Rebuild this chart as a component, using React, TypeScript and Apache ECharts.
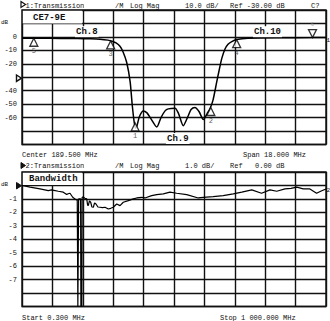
import React, { useEffect, useRef } from "react";
import * as echarts from "echarts";

const MONO = '"Liberation Mono", "DejaVu Sans Mono", monospace';

// Chart 1 (narrow span)
const CENTER_MHZ = 189.5;
const SPAN_MHZ = 18;
const Y1_MIN = -80;
const Y1_MAX = 20;
const Y1_LABELS = [0, -10, -20, -40, -50, -60];

const trace1Freq = [
  180.5, 181.5, 182.75, 183.8, 184.53, 185.12, 185.59, 185.83, 186.07, 186.3, 186.48, 186.7,
  186.9, 187.03, 187.15, 187.23, 187.31, 187.46, 187.68, 187.9, 188.14, 188.48, 188.73, 188.97,
  189.16, 189.56, 189.77, 190.05, 190.33, 190.51, 190.74, 190.98, 191.24, 191.46, 191.64, 191.81,
  192.03, 192.17, 192.33, 192.52, 192.7, 192.92, 193.21, 193.88, 195.78, 197.7, 198.5,
];
const trace1Db = [
  -1.0, -1.0, -1.1, -1.2, -1.4, -1.7, -2.4, -3.2, -4.5, -7, -11, -19,
  -33, -51, -64, -68, -66, -59, -55, -56.5, -61, -67, -60, -55,
  -53.5, -53, -57, -66, -59, -54, -52.5, -55.5, -61.5, -57, -53, -47,
  -33.5, -25, -16, -9, -5.5, -3.5, -2, -1, -0.6, -0.5, -0.4,
];

const markerUpNames = ["1", "2", "3", "4", "5"];
const markerUpFreq = [187.2, 191.68, 185.75, 193.21, 181.2];
const markerUpDb = [-64, -52.5, -3, -2, -1];
const markerDownNames = ["6"];
const markerDownFreq = [197.7];
const markerDownDb = [-0.5];

// Chart 2 (wide span)
const START2_MHZ = 0.3;
const STOP2_MHZ = 1000;
const Y2_MIN = -9;
const Y2_MAX = 1;
const Y2_LABELS = [-1, -2, -3, -4, -5, -6, -7];

const trace2Freq = [
  0.3, 26.6, 59.5, 86.8, 98, 105, 119.7, 136.1, 147.3, 152, 158.2, 167, 174.6, 182,
  184, 185.5, 186.5, 193, 194, 197, 198, 201.9, 207, 213.1, 216, 218.3, 222, 226.2, 230,
  234.8, 239, 243.6, 250, 256.8, 265, 273.3, 284.1, 292, 300.5, 311.7, 322.6, 333.4, 349.9,
  366.3, 377.5, 393.9, 404.8, 426.8, 443.3, 465, 487, 509, 542, 580, 596, 629, 662, 695,
  723, 756, 788, 816, 838, 865, 885, 904, 925, 947, 969, 986, 1000,
];
const trace2Db = [
  0, -0.13, -0.26, -0.39, -0.33, -0.36, -0.43, -0.5, -0.68, -0.62, -0.58, -0.88, -1.0, -1.1,
  -9, -9, -1.0, -1.0, -9, -9, -0.9, -0.85, -0.95, -1.0, -1.45, -1.5, -1.15, -1.25, -1.6,
  -1.62, -1.3, -1.38, -1.6, -1.62, -1.65, -1.62, -1.75, -1.7, -1.62, -1.38, -1.5, -1.25, -1.13,
  -1.0, -0.93, -0.88, -0.93, -0.76, -0.68, -0.63, -0.5, -0.58, -0.68, -0.93, -0.88, -0.83, -0.76, -0.63,
  -0.5, -0.33, -0.58, -0.33, -0.43, -0.26, -0.22, -0.13, -0.26, -0.26, -0.58, -0.39, -0.26,
];

const INK = "#111";

function txt(text: string, x: number, y: number, size = 7, extra: any = {}) {
  return {
    type: "text",
    x,
    y,
    z: 20,
    style: {
      text,
      fill: INK,
      fontFamily: MONO,
      fontSize: size,
      verticalAlign: "middle",
      align: "left",
      ...extra,
    },
  };
}

export default function App() {
  const ref = useRef<HTMLDivElement>(null);
  useEffect(() => {
    if (!ref.current) return;
    const chart = echarts.init(ref.current, undefined, { renderer: "svg" });
    const x1Start = CENTER_MHZ - SPAN_MHZ / 2;
    const span2 = STOP2_MHZ - START2_MHZ;
    const near = (v: number, arr: number[]) => arr.some((a) => Math.abs(a - v) < 1e-6);
    const splitLine = { show: true, lineStyle: { color: INK, width: 1.4 } };
    const gridBase = {
      left: 22,
      width: 304,
      height: 134.5,
      show: true,
      borderColor: INK,
      borderWidth: 1.4,
      backgroundColor: "#fff",
    };
    const option: any = {
      animation: false,
      backgroundColor: "#fff",
      textStyle: { fontFamily: MONO },
      grid: [
        { ...gridBase, top: 10 },
        { ...gridBase, top: 172 },
      ],
      xAxis: [
        {
          gridIndex: 0,
          type: "value",
          min: 0,
          max: SPAN_MHZ,
          interval: SPAN_MHZ / 10,
          axisLabel: { show: false },
          axisTick: { show: false },
          axisLine: { show: false },
          splitLine,
        },
        {
          gridIndex: 1,
          type: "value",
          min: 0,
          max: span2,
          interval: span2 / 10,
          axisLabel: { show: false },
          axisTick: { show: false },
          axisLine: { show: false },
          splitLine,
        },
      ],
      yAxis: [
        {
          gridIndex: 0,
          type: "value",
          min: Y1_MIN,
          max: Y1_MAX,
          interval: 10,
          axisTick: { show: false },
          axisLine: { show: false },
          splitLine,
          axisLabel: {
            margin: 5,
            fontSize: 7,
            color: INK,
            fontFamily: MONO,
            formatter: (v: number) => (near(v, Y1_LABELS) ? String(v) : ""),
          },
        },
        {
          gridIndex: 1,
          type: "value",
          min: Y2_MIN,
          max: Y2_MAX,
          interval: 1,
          axisTick: { show: false },
          axisLine: { show: false },
          splitLine,
          axisLabel: {
            margin: 5,
            fontSize: 7,
            color: INK,
            fontFamily: MONO,
            formatter: (v: number) => (near(v, Y2_LABELS) ? String(v) : ""),
          },
        },
      ],
      series: [
        {
          type: "line",
          xAxisIndex: 0,
          yAxisIndex: 0,
          data: trace1Freq.map((f, i) => [f - x1Start, trace1Db[i]]),
          showSymbol: false,
          smooth: 0.25,
          lineStyle: { color: "#000", width: 1.5 },
          z: 3,
        },
        {
          type: "line",
          xAxisIndex: 1,
          yAxisIndex: 1,
          data: trace2Freq.map((f, i) => [f - START2_MHZ, trace2Db[i]]),
          showSymbol: false,
          lineStyle: { color: "#000", width: 1.2 },
          clip: true,
          z: 3,
        },
        {
          type: "scatter",
          xAxisIndex: 0,
          yAxisIndex: 0,
          data: markerUpFreq.map((f, i) => ({ name: markerUpNames[i], value: [f - x1Start, markerUpDb[i]] })),
          symbol: "triangle",
          symbolSize: [8, 8],
          symbolOffset: [0, "50%"],
          itemStyle: { color: "#fff", borderColor: "#000", borderWidth: 1.3 },
          label: {
            show: true,
            position: "bottom",
            distance: 1,
            formatter: (p: any) => p.name,
            fontSize: 7,
            color: "#333",
            fontFamily: MONO,
          },
          z: 5,
        },
        {
          type: "scatter",
          xAxisIndex: 0,
          yAxisIndex: 0,
          data: markerDownFreq.map((f, i) => ({ name: markerDownNames[i], value: [f - x1Start, markerDownDb[i]] })),
          symbol: "triangle",
          symbolRotate: 180,
          symbolSize: [8, 8],
          symbolOffset: [0, "-50%"],
          itemStyle: { color: "#fff", borderColor: "#000", borderWidth: 1.3 },
          label: {
            show: true,
            position: "top",
            distance: 1,
            formatter: (p: any) => p.name,
            fontSize: 5.5,
            color: "#888",
            fontFamily: MONO,
          },
          z: 5,
        },
      ],
      graphic: [
        {
          type: "polygon",
          z: 20,
          shape: { points: [[21, 1.5], [25.5, 4.5], [21, 7.5]] },
          style: { fill: "#fff", stroke: INK, lineWidth: 1.2 },
        },
        txt("1:Transmission", 25.5, 5.5),
        txt("/M", 115, 5.5),
        txt("Log Mag", 130, 5.5),
        txt("10.0 dB/", 185, 5.5),
        txt("Ref -30.00 dB", 230, 5.5),
        txt("C?", 311, 5.5),
        txt("dB", 1, 22, 6),
        {
          type: "polygon",
          z: 20,
          shape: { points: [[16.5, 75], [21.5, 78.2], [16.5, 81.4]] },
          style: { fill: "#fff", stroke: INK, lineWidth: 1.4 },
        },
        { type: "rect", z: 15, shape: { x: 22.8, y: 10.8, width: 59.4, height: 12.6 }, style: { fill: "#fff" } },
        txt("CE7-9E", 33, 17.5, 9, { fontWeight: "bold" }),
        txt("Ch.8", 75, 31.7, 9, { fontWeight: "bold", backgroundColor: "#fff", padding: [1, 1] }),
        txt("Ch.9", 166, 138.5, 9, { fontWeight: "bold", backgroundColor: "#fff", padding: [1, 1] }),
        txt("Ch.10", 253, 31.7, 9, { fontWeight: "bold", backgroundColor: "#fff", padding: [1, 1] }),
        txt("1", 326.5, 40, 6),
        txt("Center 189.500 MHz", 22, 154.7),
        txt("Span 18.000 MHz", 243, 154.7),
        {
          type: "polygon",
          z: 20,
          shape: { points: [[21, 162.5], [25.5, 165.5], [21, 168.5]] },
          style: { fill: INK, stroke: INK, lineWidth: 1 },
        },
        txt("2:Transmission", 25.5, 166),
        txt("/M", 115, 166),
        txt("Log Mag", 130, 166),
        txt("1.0 dB/", 185, 166),
        txt("Ref", 230, 166),
        txt("0.00 dB", 255, 166),
        txt("dB", 1, 184, 6),
        {
          type: "polygon",
          z: 20,
          shape: { points: [[16.5, 182.5], [21.5, 185.7], [16.5, 188.9]] },
          style: { fill: INK, stroke: INK, lineWidth: 1 },
        },
        { type: "rect", z: 15, shape: { x: 22.8, y: 172.8, width: 59.4, height: 12.2 }, style: { fill: "#fff" } },
        txt("Bandwidth", 29, 179, 9, { fontWeight: "bold" }),
        txt("2", 326.5, 190.5, 6),
        txt("Start 0.300 MHz", 22, 317.5),
        txt("Stop 1 000.000 MHz", 220, 317.5),
      ],
    };
    chart.setOption(option);
    return () => chart.dispose();
  }, []);
  return (
    <div
      ref={ref}
      style={{ position: "fixed", left: 0, top: 0, width: 330, height: 321, background: "#fff" }}
    />
  );
}
